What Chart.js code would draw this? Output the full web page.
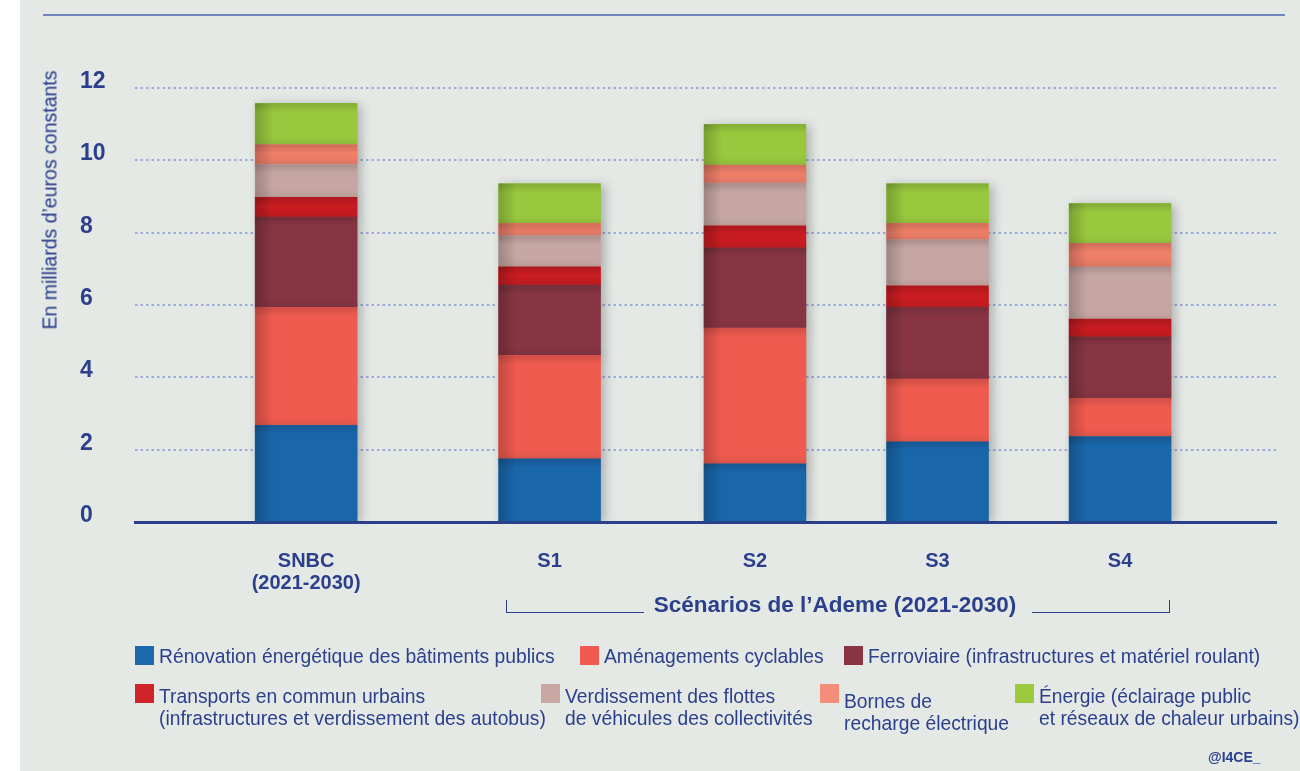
<!DOCTYPE html>
<html lang="fr">
<head>
<meta charset="UTF-8">
<title>Investissements des collectivités - SNBC et scénarios de l'Ademe</title>
<script src="https://cdn.jsdelivr.net/npm/chart.js"></script>
<style>
body {
    margin: 0;
    width: 1300px;
    height: 771px;
    background: #ffffff;
    font-family: 'Liberation Sans', Arial, sans-serif;
    color: #2b3f8c;
    position: relative;
    overflow: hidden;
}
.panel {
    position: absolute;
    left: 20px;
    top: 0;
    width: 1280px;
    height: 771px;
    background: #e4e9e6;
}
.top-line {
    position: absolute;
    left: 43px;
    top: 14px;
    width: 1242px;
    height: 2px;
    background: #7284bd;
}
#chart-wrap {
    position: absolute;
    left: 0;
    top: 0;
    width: 1300px;
    height: 771px;
}
.y-title {
    position: absolute;
    left: 50px;
    top: 200px;
    transform: translate(-50%, -50%) rotate(-90deg);
    white-space: nowrap;
    font-size: 19.5px;
    color: #24398a;
}
.bracket {
    position: absolute;
    top: 600px;
    height: 12px;
    border-bottom: 1.5px solid #2b3f8c;
}
.bracket.left { left: 506px; width: 137px; border-left: 1.5px solid #2b3f8c; }
.bracket.right { left: 1032px; width: 137px; border-right: 1.5px solid #2b3f8c; }
.group-title {
    position: absolute;
    left: 835px;
    top: 593px;
    transform: translateX(-50%);
    white-space: nowrap;
    font-weight: bold;
    font-size: 22.5px;
    line-height: 24px;
}
.legend-item { position: absolute; }
.legend-item .sw { position: absolute; left: 0; top: 0; width: 19px; height: 19px; }
.legend-item .txt { position: absolute; left: 24px; white-space: nowrap; font-size: 19.3px; line-height: 22px; }
.source {
    position: absolute;
    left: 1208px;
    top: 749px;
    font-weight: bold;
    font-size: 14px;
}
</style>
</head>
<body>
<div class="panel"></div>
<div class="top-line"></div>
<div id="chart-wrap"><canvas id="chart"></canvas></div>
<div class="y-title">En milliards d’euros constants</div>
<div class="bracket left"></div>
<div class="group-title">Scénarios de l’Ademe (2021-2030)</div>
<div class="bracket right"></div>
<div id="legend"></div>
<div class="source">@I4CE_</div>

<script>
// categories (x axis)
const categories = [['SNBC', '(2021-2030)'], 'S1', 'S2', 'S3', 'S4'];

// series values, milliards d'euros
const renovation   = [2.67, 1.75, 1.61, 2.22, 2.36];
const cyclables    = [3.27, 2.86, 3.75, 1.73, 1.06];
const ferroviaire  = [2.49, 1.94, 2.22, 1.99, 1.70];
const transports   = [0.55, 0.51, 0.61, 0.59, 0.49];
const verdissement = [0.91, 0.86, 1.18, 1.28, 1.45];
const bornes       = [0.55, 0.34, 0.50, 0.45, 0.65];
const energie      = [1.14, 1.10, 1.13, 1.10, 1.10];

const yTicks = [0, 2, 4, 6, 8, 10, 12];

const seriesNames = [
    ['Rénovation énergétique des bâtiments publics'],
    ['Aménagements cyclables'],
    ['Ferroviaire (infrastructures et matériel roulant)'],
    ['Transports en commun urbains', '(infrastructures et verdissement des autobus)'],
    ['Verdissement des flottes', 'de véhicules des collectivités'],
    ['Bornes de', 'recharge électrique'],
    ['Énergie (éclairage public', ' et réseaux de chaleur urbains)']
];

// styles / layout
const barColors = ['#1a66aa', '#f05b50', '#873543', '#c91c21', '#c6a6a3', '#f07f69', '#98c83e'];
const swatchColors = ['#1c68ad', '#f05a50', '#8a3442', '#d1232a', '#c9a7a3', '#f38e79', '#9bc93f'];
const legendPos = [[135, 646, 0], [580, 646, 0], [844, 646, 0], [135, 684, 2], [541, 684, 2], [820, 684, 7], [1015, 684, 2]];

// uneven spacing of the bars: each category sits in a slot of a fine category grid
const slotCount = 150;
const slotOf = [22, 54, 81, 105, 129];

const labels = Array.from({length: slotCount}, () => '');
categories.forEach((c, i) => { labels[slotOf[i]] = c; });

function toSlots(values) {
    const out = new Array(slotCount).fill(null);
    values.forEach((v, i) => { out[slotOf[i]] = v; });
    return out;
}

const series = [renovation, cyclables, ferroviaire, transports, verdissement, bornes, energie];

// drop shadow + soft inner shading on the left and top edge of each segment
const barShading = {
    id: 'barShading',
    beforeDatasetsDraw(chart) {
        const ctx = chart.ctx;
        ctx.save();
        ctx.shadowColor = 'rgba(40, 40, 40, 0.3)';
        ctx.shadowBlur = 10;
        ctx.shadowOffsetX = 4;
        ctx.shadowOffsetY = 2;
    },
    afterDatasetsDraw(chart) {
        const ctx = chart.ctx;
        ctx.restore();
        chart.data.datasets.forEach((ds, di) => {
            chart.getDatasetMeta(di).data.forEach((bar, i) => {
                if (ds.data[i] == null) return;
                const {x, y, base, width} = bar.getProps(['x', 'y', 'base', 'width'], true);
                const left = x - width / 2;
                const top = Math.min(y, base);
                const h = Math.abs(base - y);
                if (!(h > 0)) return;
                let g = ctx.createLinearGradient(left, 0, left + 18, 0);
                g.addColorStop(0, 'rgba(0, 0, 0, 0.2)');
                g.addColorStop(1, 'rgba(0, 0, 0, 0)');
                ctx.fillStyle = g;
                ctx.fillRect(left, top, 18, h);
                g = ctx.createLinearGradient(0, top, 0, top + 9);
                g.addColorStop(0, 'rgba(0, 0, 0, 0.14)');
                g.addColorStop(1, 'rgba(0, 0, 0, 0)');
                ctx.fillStyle = g;
                ctx.fillRect(left, top, width, Math.min(9, h));
            });
        });
    }
};

new Chart(document.getElementById('chart'), {
    type: 'bar',
    data: {
        labels: labels,
        datasets: series.map((s, i) => ({
            label: seriesNames[i].join(' '),
            data: toSlots(s),
            backgroundColor: barColors[i],
            borderWidth: 0,
            barThickness: 102
        }))
    },
    options: {
        responsive: true,
        maintainAspectRatio: false,
        animation: false,
        layout: {
            padding: {left: 80, right: 24, top: 70, bottom: 150}
        },
        scales: {
            x: {
                stacked: true,
                afterFit: scale => { scale.height = 99; },
                grid: {display: false, drawTicks: false},
                border: {display: true, color: '#2b3f8c', width: 3},
                ticks: {
                    autoSkip: false,
                    maxRotation: 0,
                    minRotation: 0,
                    padding: 6,
                    color: '#2b3f8c',
                    font: {family: "'Liberation Sans', Arial, sans-serif", size: 20, weight: 'bold', lineHeight: '22px'},
                    // blank first line pushes the names down from the axis
                    callback: (v, i) => labels[i] === '' ? '' : [''].concat(labels[i])
                }
            },
            y: {
                stacked: true,
                min: 0,
                max: 12.5,
                afterBuildTicks: scale => { scale.ticks = yTicks.map(v => ({value: v})); },
                afterFit: scale => { scale.width = 55; },
                grid: {color: '#9eabd8', lineWidth: 2, drawTicks: false},
                border: {display: false, dash: [2.5, 3]},
                ticks: {
                    crossAlign: 'far',
                    padding: 29,
                    color: '#2b3f8c',
                    font: {family: "'Liberation Sans', Arial, sans-serif", size: 23, weight: 'bold', lineHeight: '13px'},
                    callback: v => [String(v), '']
                }
            }
        },
        plugins: {
            legend: {display: false},
            tooltip: {enabled: false}
        }
    },
    plugins: [barShading]
});

// legend
const legend = document.getElementById('legend');
seriesNames.forEach((lines, i) => {
    const [x, y, dy] = legendPos[i];
    const item = document.createElement('div');
    item.className = 'legend-item';
    item.style.left = x + 'px';
    item.style.top = y + 'px';
    item.innerHTML = `<div class="sw" style="background:${swatchColors[i]}"></div>` +
        `<div class="txt" style="top:${dy}px">${lines.join('<br>')}</div>`;
    legend.appendChild(item);
});
</script>
</body>
</html>
